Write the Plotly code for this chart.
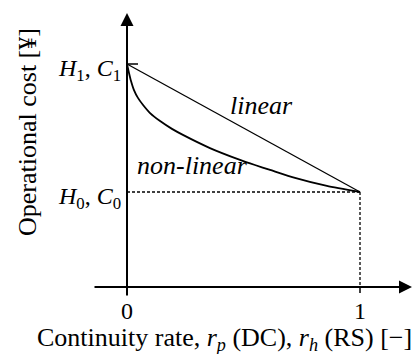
import plotly.graph_objects as go

# ---- data ----
C1 = 1.0          # H1, C1 level
C0 = 0.426        # H0, C0 level
x_linear = [0, 1]
y_linear = [C1, C0]
x_nonlinear = [0, 0.0086, 0.0172, 0.030, 0.047, 0.069, 0.099, 0.142, 0.193, 0.240,
               0.356, 0.485, 0.549, 0.614, 0.721, 0.858, 1.0]
y_nonlinear = [1.0, 0.960, 0.924, 0.883, 0.848, 0.816, 0.780, 0.744, 0.709, 0.682,
               0.623, 0.570, 0.547, 0.525, 0.489, 0.453, 0.426]
x_ticks = [0, 1]
x_tick_labels = ["0", "1"]

W, H = 412, 354
ML, MR, MT, MB = 93, 0, 13, 57
XMIN, XMAX = -34 / 233, -34 / 233 + (W - ML - MR) / 233
YMIN, YMAX = -10 / 223, (287 - 13) / 223

FONT = "Liberation Serif"

def px(xp):
    return (xp - ML) / (W - ML - MR)

def py(yp):
    return (H - MB - yp) / (H - MT - MB)

fig = go.Figure()
fig.add_trace(go.Scatter(x=x_linear, y=y_linear, mode="lines",
                         line=dict(color="black", width=1.3), hoverinfo="skip"))
fig.add_trace(go.Scatter(x=x_nonlinear, y=y_nonlinear, mode="lines",
                         line=dict(color="black", width=1.8, shape="spline", smoothing=0.6),
                         hoverinfo="skip"))

fig.add_shape(type="line", x0=0, x1=1, y0=C0, y1=C0, line=dict(color="black", width=1.3, dash="3px,2px"))
fig.add_shape(type="line", x0=1, x1=1, y0=C0, y1=0, line=dict(color="black", width=1.3, dash="3px,2px"))
fig.add_shape(type="line", x0=0, x1=11 / 233, y0=C1, y1=C1, line=dict(color="black", width=1.5))
fig.add_shape(type="line", x0=1, x1=1, y0=0, y1=-6 / 223, line=dict(color="black", width=1.5))

anns = []
anns.append(dict(x=0, y=YMAX, ax=0, ay=YMIN, xref="x", yref="y", axref="x", ayref="y",
                 showarrow=True, arrowhead=2, arrowsize=1.3, arrowwidth=2, arrowcolor="black", text=""))
anns.append(dict(x=XMAX, y=0, ax=XMIN, ay=0, xref="x", yref="y", axref="x", ayref="y",
                 showarrow=True, arrowhead=2, arrowsize=1.3, arrowwidth=2, arrowcolor="black", text=""))

f = dict(family=FONT, size=24, color="black")
f26 = dict(family=FONT, size=26, color="black")
anns.append(dict(x=0, y=C1, xref="x", yref="y", xanchor="right", yanchor="middle", xshift=-4, yshift=-6,
                 text="<i>H</i><sub>1</sub>, <i>C</i><sub>1</sub>", showarrow=False, font=f))
anns.append(dict(x=0, y=C0, xref="x", yref="y", xanchor="right", yanchor="middle", xshift=-4, yshift=-6,
                 text="<i>H</i><sub>0</sub>, <i>C</i><sub>0</sub>", showarrow=False, font=f))
anns.append(dict(x=px(261), y=py(105), xref="paper", yref="paper", xanchor="center", yanchor="middle",
                 text="<i>linear</i>", showarrow=False, font=f26))
anns.append(dict(x=px(192), y=py(165), xref="paper", yref="paper", xanchor="center", yanchor="middle",
                 text="<i>non-linear</i>", showarrow=False, font=f26))
for xv, lab in zip(x_ticks, x_tick_labels):
    anns.append(dict(x=xv, y=py(311), xref="x", yref="paper", xanchor="center", yanchor="middle",
                     text=lab, showarrow=False, font=f))
anns.append(dict(x=px(224), y=py(339), xref="paper", yref="paper", xanchor="center", yanchor="middle",
                 text="Continuity rate, <i>r</i><sub><i>p</i></sub> (DC), <i>r</i><sub><i>h</i></sub> (RS) [−]",
                 showarrow=False, font=f26))
anns.append(dict(x=px(27), y=py(132), xref="paper", yref="paper", xanchor="center", yanchor="middle",
                 text="Operational cost [¥]", textangle=-90, showarrow=False, font=f26))

fig.update_layout(
    width=W, height=H,
    margin=dict(l=ML, r=MR, t=MT, b=MB),
    paper_bgcolor="white", plot_bgcolor="white",
    showlegend=False,
    font=dict(family=FONT),
    xaxis=dict(range=[XMIN, XMAX], visible=False, fixedrange=True),
    yaxis=dict(range=[YMIN, YMAX], visible=False, fixedrange=True),
    annotations=anns,
)
fig.write_html("out.html")
